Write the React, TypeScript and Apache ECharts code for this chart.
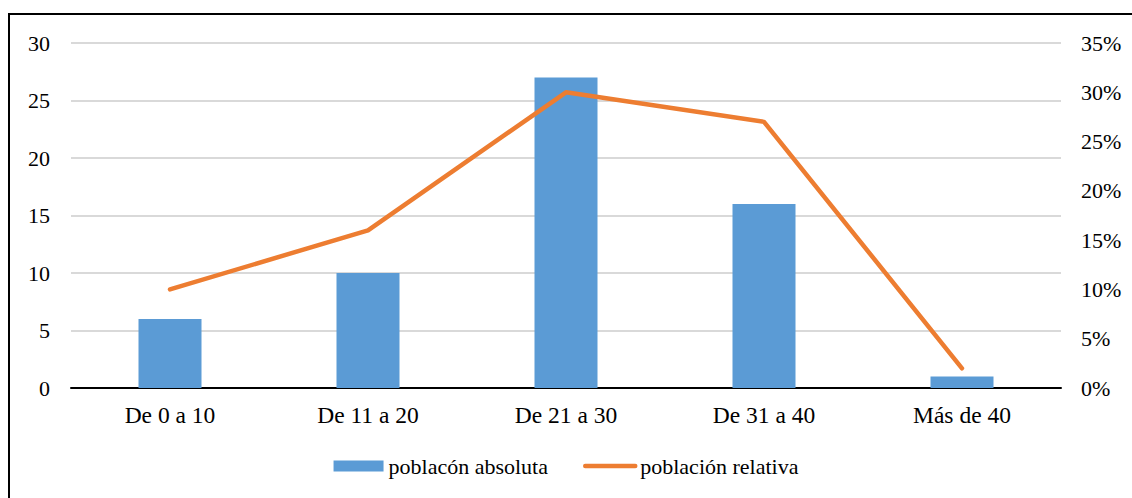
import React, { useEffect, useRef } from "react";
import * as echarts from "echarts";

const categories = ["De 0 a 10", "De 11 a 20", "De 21 a 30", "De 31 a 40", "Más de 40"];
const absoluta = [6, 10, 27, 16, 1];
const relativa = [0.1, 0.16, 0.3, 0.27, 0.02];

const FONT = "Liberation Serif";

export default function App() {
  const ref = useRef<HTMLDivElement>(null);
  useEffect(() => {
    if (!ref.current) return;
    const chart = echarts.init(ref.current, null, { renderer: "svg" });
    chart.setOption({
      animation: false,
      textStyle: { fontFamily: FONT, fontSize: 22 },
      grid: { left: 71, right: 71, top: 43, bottom: 110, containLabel: false },
      legend: {
        bottom: 16,
        left: "center",
        itemGap: 35,
        itemWidth: 50,
        itemHeight: 11,
        textStyle: { fontFamily: FONT, fontSize: 22, color: "#000" },
        data: [
          { name: "poblacón absoluta", icon: "rect" },
          {
            name: "población relativa",
            itemStyle: { opacity: 0 },
            lineStyle: { color: "#ED7D31", width: 4.5, cap: "round" },
          },
        ],
      },
      xAxis: {
        type: "category",
        data: categories,
        axisLine: { lineStyle: { color: "#000", width: 2 } },
        axisTick: { show: false },
        axisLabel: { fontFamily: FONT, fontSize: 23.5, color: "#000", margin: 15 },
      },
      yAxis: [
        {
          type: "value",
          min: 0,
          max: 30,
          interval: 5,
          axisLine: { show: false },
          axisTick: { show: false },
          splitLine: { lineStyle: { color: "#D9D9D9", width: 2 } },
          axisLabel: { fontFamily: FONT, fontSize: 22, color: "#000", margin: 21 },
        },
        {
          type: "value",
          min: 0,
          max: 0.35,
          interval: 0.05,
          axisLine: { show: false },
          axisTick: { show: false },
          splitLine: { show: false },
          axisLabel: {
            fontFamily: FONT,
            fontSize: 22,
            color: "#000",
            margin: 20,
            formatter: (v: number) => Math.round(v * 100) + "%",
          },
        },
      ],
      series: [
        {
          name: "poblacón absoluta",
          type: "bar",
          data: absoluta,
          barWidth: 63,
          itemStyle: { color: "#5B9BD5" },
          z: 2,
        },
        {
          name: "población relativa",
          type: "line",
          yAxisIndex: 1,
          data: relativa,
          symbol: "none",
          lineStyle: { color: "#ED7D31", width: 4.5, cap: "round", join: "round" },
          itemStyle: { color: "#ED7D31" },
          z: 3,
        },
      ],
      graphic: [
        {
          type: "rect",
          shape: { x: 9, y: 14, width: 2000, height: 2000 },
          style: { fill: "none", stroke: "#000", lineWidth: 2 },
          silent: true,
        },
      ],
    });
    return () => chart.dispose();
  }, []);
  return (
    <div
      ref={ref}
      style={{ position: "fixed", left: 0, top: 0, width: 1132, height: 498, background: "#fff" }}
    />
  );
}
